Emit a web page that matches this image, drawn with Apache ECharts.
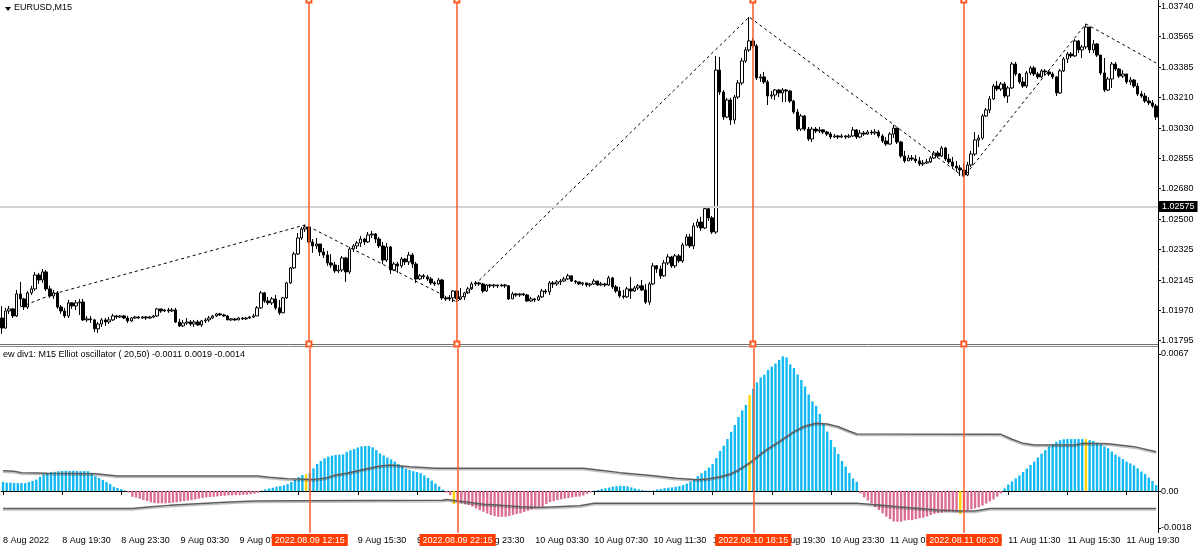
<!DOCTYPE html>
<html>
<head>
<meta charset="utf-8">
<script src="https://cdn.jsdelivr.net/npm/echarts@6.0.0/dist/echarts.min.js"></script>
<style>
  html, body { margin: 0; padding: 0; background: #fff; }
  #chart { width: 1200px; height: 552px; }
</style>
</head>
<body>
<div id="chart"></div>
<script>
// EURUSD M15, bars from 8 Aug 2022 15:30 to 11 Aug 2022 21:30
const firstOpen = 1.01927;
const closes = [
  1.01869, 1.01968, 1.01980, 1.01939, 1.02067, 1.02038, 1.01991, 1.02073, 1.02096, 1.02177,
  1.02148, 1.02195, 1.02096, 1.02055, 1.02073, 1.01991, 1.01968, 1.01939, 1.02015, 1.01997,
  1.02015, 1.02020, 1.01916, 1.01922, 1.01916, 1.01864, 1.01892, 1.01916, 1.01904, 1.01916,
  1.01939, 1.01933, 1.01939, 1.01927, 1.01910, 1.01927, 1.01933, 1.01927, 1.01933, 1.01927,
  1.01933, 1.01939, 1.01980, 1.01968, 1.01974, 1.01968, 1.01974, 1.01904, 1.01881, 1.01898,
  1.01904, 1.01892, 1.01904, 1.01887, 1.01910, 1.01916, 1.01927, 1.01939, 1.01951, 1.01945,
  1.01939, 1.01916, 1.01922, 1.01916, 1.01927, 1.01922, 1.01927, 1.01933, 1.01939, 1.01986,
  1.02073, 1.02026, 1.02015, 1.02038, 1.01986, 1.01957, 1.02044, 1.02131, 1.02218, 1.02299,
  1.02392, 1.02444, 1.02456, 1.02369, 1.02346, 1.02357, 1.02311, 1.02293, 1.02247, 1.02235,
  1.02201, 1.02206, 1.02276, 1.02195, 1.02328, 1.02346, 1.02363, 1.02386, 1.02369, 1.02410,
  1.02415, 1.02386, 1.02346, 1.02264, 1.02340, 1.02206, 1.02241, 1.02230, 1.02270, 1.02253,
  1.02293, 1.02241, 1.02154, 1.02172, 1.02166, 1.02154, 1.02131, 1.02125, 1.02148, 1.02044,
  1.02038, 1.02044, 1.02084, 1.02038, 1.02050, 1.02073, 1.02096, 1.02125, 1.02131, 1.02125,
  1.02084, 1.02119, 1.02114, 1.02119, 1.02114, 1.02119, 1.02114, 1.02038, 1.02067, 1.02061,
  1.02067, 1.02061, 1.02026, 1.02038, 1.02032, 1.02050, 1.02084, 1.02079, 1.02131, 1.02125,
  1.02137, 1.02142, 1.02154, 1.02172, 1.02142, 1.02137, 1.02125, 1.02131, 1.02119, 1.02125,
  1.02142, 1.02119, 1.02125, 1.02119, 1.02160, 1.02108, 1.02084, 1.02055, 1.02050, 1.02096,
  1.02084, 1.02102, 1.02114, 1.02090, 1.02020, 1.02125, 1.02230, 1.02212, 1.02172, 1.02247,
  1.02282, 1.02230, 1.02288, 1.02259, 1.02351, 1.02398, 1.02346, 1.02462, 1.02485, 1.02450,
  1.02562, 1.02509, 1.02427, 1.03368, 1.03240, 1.03095, 1.03194, 1.03078, 1.03211, 1.03293,
  1.03421, 1.03485, 1.03537, 1.03508, 1.03322, 1.03328, 1.03299, 1.03217, 1.03223, 1.03252,
  1.03235, 1.03252, 1.03246, 1.03188, 1.03124, 1.03025, 1.03101, 1.03025, 1.02967, 1.03025,
  1.03014, 1.03020, 1.03008, 1.02996, 1.02979, 1.02985, 1.02979, 1.02985, 1.02979, 1.02985,
  1.03020, 1.02979, 1.03002, 1.02996, 1.03008, 1.03002, 1.03008, 1.02985, 1.02956, 1.02938,
  1.02996, 1.03031, 1.02950, 1.02868, 1.02840, 1.02857, 1.02851, 1.02840, 1.02822, 1.02828,
  1.02834, 1.02857, 1.02886, 1.02868, 1.02915, 1.02851, 1.02834, 1.02810, 1.02799, 1.02787,
  1.02758, 1.02816, 1.02880, 1.02962, 1.02973, 1.03101, 1.03136, 1.03200, 1.03275, 1.03258,
  1.03287, 1.03217, 1.03264, 1.03403, 1.03345, 1.03299, 1.03275, 1.03351, 1.03380, 1.03345,
  1.03328, 1.03363, 1.03357, 1.03345, 1.03328, 1.03235, 1.03363, 1.03432, 1.03461, 1.03450,
  1.03537, 1.03485, 1.03502, 1.03618, 1.03485, 1.03519, 1.03455, 1.03351, 1.03252, 1.03316,
  1.03403, 1.03374, 1.03333, 1.03345, 1.03299, 1.03310, 1.03275, 1.03229, 1.03217, 1.03188,
  1.03177, 1.03159, 1.03095
];
const highs = [
  1.01997, 1.01986, 1.01997, 1.01986, 1.02090, 1.02137, 1.02044, 1.02084, 1.02114, 1.02195,
  1.02189, 1.02212, 1.02206, 1.02114, 1.02090, 1.02084, 1.02003, 1.01986, 1.02032, 1.02020,
  1.02032, 1.02038, 1.02038, 1.01939, 1.01939, 1.01922, 1.01904, 1.01927, 1.01927, 1.01933,
  1.01951, 1.01945, 1.01945, 1.01945, 1.01939, 1.01933, 1.01939, 1.01939, 1.01939, 1.01939,
  1.01939, 1.01945, 1.01986, 1.01980, 1.01980, 1.01986, 1.01986, 1.01986, 1.01922, 1.01916,
  1.01927, 1.01916, 1.01916, 1.01916, 1.01916, 1.01927, 1.01939, 1.01945, 1.01957, 1.01957,
  1.01951, 1.01945, 1.01927, 1.01927, 1.01933, 1.01933, 1.01933, 1.01939, 1.01951, 1.01997,
  1.02084, 1.02079, 1.02050, 1.02050, 1.02061, 1.02032, 1.02050, 1.02137, 1.02224, 1.02311,
  1.02421, 1.02456, 1.02468, 1.02462, 1.02386, 1.02392, 1.02351, 1.02334, 1.02317, 1.02299,
  1.02253, 1.02235, 1.02288, 1.02282, 1.02340, 1.02357, 1.02375, 1.02404, 1.02392, 1.02427,
  1.02433, 1.02421, 1.02398, 1.02369, 1.02363, 1.02346, 1.02253, 1.02253, 1.02282, 1.02276,
  1.02311, 1.02305, 1.02253, 1.02183, 1.02183, 1.02177, 1.02166, 1.02142, 1.02160, 1.02154,
  1.02055, 1.02061, 1.02090, 1.02090, 1.02102, 1.02079, 1.02108, 1.02137, 1.02142, 1.02137,
  1.02131, 1.02125, 1.02125, 1.02125, 1.02119, 1.02125, 1.02125, 1.02119, 1.02079, 1.02073,
  1.02073, 1.02073, 1.02067, 1.02050, 1.02044, 1.02061, 1.02096, 1.02096, 1.02142, 1.02142,
  1.02148, 1.02154, 1.02166, 1.02183, 1.02172, 1.02148, 1.02137, 1.02137, 1.02131, 1.02131,
  1.02154, 1.02142, 1.02137, 1.02131, 1.02172, 1.02166, 1.02119, 1.02108, 1.02090, 1.02108,
  1.02166, 1.02114, 1.02125, 1.02148, 1.02125, 1.02137, 1.02247, 1.02235, 1.02230, 1.02264,
  1.02299, 1.02288, 1.02299, 1.02299, 1.02363, 1.02415, 1.02415, 1.02479, 1.02503, 1.02515,
  1.02574, 1.02574, 1.02520, 1.03450, 1.03444, 1.03252, 1.03206, 1.03206, 1.03223, 1.03310,
  1.03438, 1.03502, 1.03676, 1.03554, 1.03519, 1.03345, 1.03357, 1.03310, 1.03246, 1.03258,
  1.03258, 1.03264, 1.03258, 1.03252, 1.03194, 1.03142, 1.03113, 1.03107, 1.03037, 1.03037,
  1.03037, 1.03037, 1.03025, 1.03014, 1.03008, 1.02996, 1.02991, 1.02996, 1.02991, 1.02996,
  1.03037, 1.03025, 1.03020, 1.03014, 1.03020, 1.03020, 1.03025, 1.03020, 1.02996, 1.02979,
  1.03008, 1.03049, 1.03002, 1.02956, 1.02898, 1.02874, 1.02874, 1.02874, 1.02863, 1.02845,
  1.02851, 1.02868, 1.02898, 1.02898, 1.02927, 1.02921, 1.02880, 1.02863, 1.02840, 1.02816,
  1.02828, 1.02834, 1.02898, 1.03008, 1.02991, 1.03113, 1.03148, 1.03217, 1.03287, 1.03304,
  1.03299, 1.03299, 1.03275, 1.03415, 1.03415, 1.03351, 1.03328, 1.03363, 1.03392, 1.03392,
  1.03357, 1.03374, 1.03374, 1.03363, 1.03357, 1.03333, 1.03374, 1.03444, 1.03473, 1.03473,
  1.03548, 1.03543, 1.03513, 1.03636, 1.03612, 1.03543, 1.03525, 1.03455, 1.03438, 1.03328,
  1.03415, 1.03415, 1.03380, 1.03368, 1.03345, 1.03328, 1.03316, 1.03293, 1.03246, 1.03235,
  1.03211, 1.03194, 1.03171
];
const lows = [
  1.01835, 1.01864, 1.01951, 1.01927, 1.01933, 1.01997, 1.01974, 1.01980, 1.02061, 1.02084,
  1.02125, 1.02131, 1.02084, 1.02044, 1.02038, 1.01980, 1.01951, 1.01927, 1.01927, 1.01980,
  1.01974, 1.01945, 1.01910, 1.01904, 1.01898, 1.01846, 1.01840, 1.01875, 1.01881, 1.01892,
  1.01910, 1.01922, 1.01927, 1.01922, 1.01898, 1.01904, 1.01922, 1.01922, 1.01922, 1.01916,
  1.01922, 1.01927, 1.01933, 1.01957, 1.01962, 1.01957, 1.01962, 1.01898, 1.01875, 1.01875,
  1.01887, 1.01881, 1.01875, 1.01881, 1.01875, 1.01898, 1.01904, 1.01922, 1.01933, 1.01939,
  1.01933, 1.01916, 1.01910, 1.01910, 1.01916, 1.01916, 1.01916, 1.01922, 1.01927, 1.01939,
  1.01980, 1.02015, 1.02003, 1.02003, 1.01974, 1.01945, 1.01957, 1.02038, 1.02125, 1.02212,
  1.02293, 1.02381, 1.02427, 1.02357, 1.02305, 1.02328, 1.02288, 1.02276, 1.02230, 1.02218,
  1.02189, 1.02189, 1.02195, 1.02137, 1.02183, 1.02311, 1.02328, 1.02340, 1.02351, 1.02363,
  1.02392, 1.02363, 1.02334, 1.02241, 1.02253, 1.02183, 1.02201, 1.02189, 1.02218, 1.02235,
  1.02235, 1.02218, 1.02131, 1.02148, 1.02154, 1.02142, 1.02119, 1.02114, 1.02119, 1.02032,
  1.02026, 1.02026, 1.02020, 1.02020, 1.02032, 1.02032, 1.02067, 1.02090, 1.02114, 1.02114,
  1.02073, 1.02079, 1.02102, 1.02102, 1.02102, 1.02108, 1.02102, 1.02032, 1.02038, 1.02050,
  1.02050, 1.02055, 1.02020, 1.02020, 1.02020, 1.02026, 1.02044, 1.02067, 1.02061, 1.02102,
  1.02114, 1.02119, 1.02137, 1.02148, 1.02137, 1.02125, 1.02119, 1.02114, 1.02108, 1.02108,
  1.02119, 1.02114, 1.02114, 1.02108, 1.02114, 1.02096, 1.02073, 1.02044, 1.02038, 1.02044,
  1.02038, 1.02079, 1.02090, 1.02084, 1.02009, 1.02003, 1.02119, 1.02189, 1.02154, 1.02166,
  1.02235, 1.02218, 1.02218, 1.02247, 1.02247, 1.02346, 1.02334, 1.02328, 1.02450, 1.02433,
  1.02444, 1.02491, 1.02415, 1.02415, 1.03223, 1.03078, 1.03089, 1.03049, 1.03055, 1.03200,
  1.03281, 1.03409, 1.03473, 1.03496, 1.03310, 1.03299, 1.03287, 1.03165, 1.03200, 1.03194,
  1.03211, 1.03182, 1.03182, 1.03177, 1.03113, 1.03014, 1.03014, 1.03014, 1.02956, 1.02950,
  1.03002, 1.03002, 1.02996, 1.02985, 1.02967, 1.02973, 1.02967, 1.02973, 1.02967, 1.02973,
  1.02979, 1.02967, 1.02973, 1.02985, 1.02991, 1.02991, 1.02991, 1.02973, 1.02944, 1.02927,
  1.02933, 1.02973, 1.02938, 1.02857, 1.02828, 1.02840, 1.02840, 1.02828, 1.02810, 1.02810,
  1.02822, 1.02828, 1.02851, 1.02857, 1.02863, 1.02840, 1.02822, 1.02799, 1.02776, 1.02752,
  1.02747, 1.02752, 1.02805, 1.02868, 1.02921, 1.02962, 1.03095, 1.03118, 1.03194, 1.03246,
  1.03246, 1.03206, 1.03177, 1.03258, 1.03333, 1.03287, 1.03264, 1.03264, 1.03339, 1.03333,
  1.03316, 1.03322, 1.03339, 1.03333, 1.03316, 1.03217, 1.03229, 1.03357, 1.03409, 1.03438,
  1.03444, 1.03467, 1.03438, 1.03490, 1.03467, 1.03467, 1.03444, 1.03339, 1.03240, 1.03246,
  1.03264, 1.03363, 1.03322, 1.03322, 1.03287, 1.03281, 1.03264, 1.03217, 1.03206, 1.03177,
  1.03165, 1.03148, 1.03078
];
// Elliott oscillator histogram, one value per bar
const osc = [
  0.00045, 0.00041, 0.00041, 0.00039, 0.00039, 0.00039, 0.00039, 0.00044, 0.00049, 0.00056,
  0.00070, 0.00081, 0.00087, 0.00093, 0.00094, 0.00097, 0.00098, 0.00099, 0.00098, 0.00099,
  0.00098, 0.00097, 0.00098, 0.00097, 0.00089, 0.00073, 0.00064, 0.00054, 0.00044, 0.00034,
  0.00021, 0.00015, 0.00010, 0.00002, -0.00008, -0.00028, -0.00032, -0.00037, -0.00044, -0.00049,
  -0.00055, -0.00059, -0.00060, -0.00060, -0.00060, -0.00059, -0.00057, -0.00055, -0.00052, -0.00049,
  -0.00047, -0.00044, -0.00041, -0.00037, -0.00034, -0.00031, -0.00029, -0.00028, -0.00026, -0.00024,
  -0.00023, -0.00021, -0.00021, -0.00020, -0.00020, -0.00018, -0.00018, -0.00016, -0.00013, -0.00008,
  0.00002, 0.00008, 0.00013, 0.00016, 0.00021, 0.00024, 0.00028, 0.00034, 0.00044, 0.00055,
  0.00068, 0.00078, 0.00083, 0.00087, 0.00111, 0.00132, 0.00147, 0.00160, 0.00168, 0.00173,
  0.00176, 0.00178, 0.00179, 0.00191, 0.00199, 0.00205, 0.00213, 0.00218, 0.00220, 0.00220,
  0.00214, 0.00200, 0.00184, 0.00174, 0.00164, 0.00155, 0.00144, 0.00132, 0.00119, 0.00108,
  0.00103, 0.00097, 0.00093, 0.00087, 0.00076, 0.00064, 0.00051, 0.00037, 0.00022, 0.00007,
  -0.00007, -0.00020, -0.00063, -0.00052, -0.00060, -0.00065, -0.00068, -0.00076, -0.00085, -0.00093,
  -0.00101, -0.00110, -0.00117, -0.00122, -0.00126, -0.00126, -0.00126, -0.00122, -0.00117, -0.00112,
  -0.00109, -0.00103, -0.00096, -0.00090, -0.00085, -0.00081, -0.00077, -0.00064, -0.00054, -0.00049,
  -0.00044, -0.00041, -0.00037, -0.00034, -0.00031, -0.00028, -0.00027, -0.00022, -0.00015, -0.00007,
  0.00002, 0.00005, 0.00010, 0.00013, 0.00017, 0.00021, 0.00024, 0.00026, 0.00025, 0.00023,
  0.00018, 0.00013, 0.00008, 0.00005, 0.00002, 0.00001, 0.00003, 0.00007, 0.00010, 0.00014,
  0.00016, 0.00018, 0.00021, 0.00024, 0.00029, 0.00036, 0.00046, 0.00059, 0.00073, 0.00087,
  0.00100, 0.00115, 0.00132, 0.00161, 0.00196, 0.00222, 0.00254, 0.00289, 0.00323, 0.00362,
  0.00394, 0.00421, 0.00469, 0.00500, 0.00531, 0.00555, 0.00569, 0.00592, 0.00608, 0.00623,
  0.00641, 0.00658, 0.00653, 0.00619, 0.00601, 0.00570, 0.00543, 0.00511, 0.00472, 0.00438,
  0.00416, 0.00377, 0.00328, 0.00291, 0.00249, 0.00215, 0.00181, 0.00147, 0.00120, 0.00088,
  0.00061, 0.00045, -0.00012, -0.00031, -0.00046, -0.00060, -0.00078, -0.00093, -0.00109, -0.00125,
  -0.00137, -0.00149, -0.00150, -0.00150, -0.00144, -0.00142, -0.00142, -0.00137, -0.00133, -0.00130,
  -0.00124, -0.00117, -0.00111, -0.00108, -0.00106, -0.00103, -0.00101, -0.00101, -0.00103, -0.00112,
  -0.00101, -0.00096, -0.00089, -0.00085, -0.00080, -0.00071, -0.00061, -0.00051, -0.00041, -0.00027,
  -0.00012, 0.00013, 0.00032, 0.00047, 0.00062, 0.00076, 0.00093, 0.00110, 0.00127, 0.00144,
  0.00164, 0.00183, 0.00200, 0.00218, 0.00230, 0.00240, 0.00248, 0.00253, 0.00254, 0.00254,
  0.00254, 0.00254, 0.00254, 0.00254, 0.00249, 0.00245, 0.00237, 0.00227, 0.00218, 0.00209,
  0.00193, 0.00178, 0.00168, 0.00156, 0.00144, 0.00135, 0.00125, 0.00111, 0.00095, 0.00083,
  0.00066, 0.00049, 0.00029
];
const yellowBars = [82, 122, 202, 259, 293];

// upper / lower level lines of the oscillator, [bar, value]
const upperLevel = [
  [0, 0.00099], [3, 0.00097], [5, 0.00089], [12, 0.00087], [25, 0.00085], [31, 0.00073],
  [69, 0.00073], [72, 0.00067], [77, 0.00060], [84, 0.00057], [87, 0.00062], [90, 0.00078],
  [93, 0.00087], [96, 0.00099], [99, 0.00111], [102, 0.00122], [105, 0.00127], [110, 0.00119],
  [117, 0.00111], [157, 0.00111], [161, 0.00103], [167, 0.00090], [176, 0.00075], [182, 0.00062],
  [188, 0.00055], [191, 0.00060], [194, 0.00070], [197, 0.00085], [199, 0.00103], [202, 0.00138],
  [206, 0.00195], [210, 0.00241], [214, 0.00290], [217, 0.00318], [220, 0.00331], [223, 0.00328],
  [226, 0.00314], [229, 0.00292], [231, 0.00279], [270, 0.00277], [273, 0.00253], [276, 0.00233],
  [279, 0.00225], [290, 0.00225], [292, 0.00233], [299, 0.00231], [306, 0.00217], [312, 0.00192]
];
const lowerLevel = [
  [0, -0.00085], [35, -0.00085], [40, -0.00077], [45, -0.00070], [50, -0.00065], [55, -0.00060],
  [60, -0.00055], [68, -0.00049], [80, -0.00047], [119, -0.00045], [120, -0.00041], [123, -0.00049],
  [127, -0.00057], [130, -0.00064], [135, -0.00070], [140, -0.00077], [145, -0.00081], [150, -0.00077],
  [156, -0.00072], [160, -0.00060], [231, -0.00060], [237, -0.00068], [242, -0.00077], [248, -0.00085],
  [253, -0.00093], [259, -0.00097], [263, -0.00097], [267, -0.00085], [312, -0.00085]
];

// zigzag pivots, [bar, price]
const zigzag = [
  [5, 1.01991], [14, 1.02067], [82, 1.02468], [123, 1.02020], [202, 1.03676],
  [260, 1.02747], [293, 1.03636], [312, 1.03409]
];

const markerBars = [83, 123, 203, 260];
const markerLabels = ['2022.08.09 12:15', '2022.08.09 22:15', '2022.08.10 18:15', '2022.08.11 08:30'];
const hLinePrice = 1.02575;

const timeLabels = [
  '8 Aug 2022', '8 Aug 19:30', '8 Aug 23:30', '9 Aug 03:30', '9 Aug 07:30', '9 Aug 11:30',
  '9 Aug 15:30', '9 Aug 19:30', '9 Aug 23:30', '10 Aug 03:30', '10 Aug 07:30', '10 Aug 11:30',
  '10 Aug 15:30', '10 Aug 19:30', '10 Aug 23:30', '11 Aug 03:30', '11 Aug 07:30', '11 Aug 11:30',
  '11 Aug 15:30', '11 Aug 19:30'
];
const labelEvery = 16;
const priceTicks = [1.01795, 1.01970, 1.02145, 1.02325, 1.02500, 1.02680, 1.02855, 1.03030, 1.03210, 1.03385, 1.03565, 1.03740];
const oscTicks = [0.0067, 0, -0.0018];
const oscTickLabels = ['0.0067', '0.00', '-0.0018'];

// bar times as categories
const start = Date.UTC(2022, 7, 8, 15, 30);
const pad = n => String(n).padStart(2, '0');
const categories = closes.map((c, i) => {
  const d = new Date(start + i * 15 * 60000);
  return d.getUTCFullYear() + '.' + pad(d.getUTCMonth() + 1) + '.' + pad(d.getUTCDate()) + ' ' +
    pad(d.getUTCHours()) + ':' + pad(d.getUTCMinutes());
});

const candles = closes.map((c, i) => {
  const o = i ? closes[i - 1] : firstOpen;
  return [o, c, Math.min(lows[i], o, c), Math.max(highs[i], o, c)];
});

const oscBars = osc.map((v, i) => ({
  value: v,
  itemStyle: { color: yellowBars.includes(i) ? '#ffd400' : (v >= 0 ? '#13b9f2' : '#db6f93') }
}));

const FONT = 'Liberation Sans';
const W = 1158;
const chart = echarts.init(document.getElementById('chart'));

chart.setOption({
  animation: false,
  backgroundColor: '#ffffff',
  textStyle: { fontFamily: FONT },
  grid: [
    { left: 0, top: 0, width: W, height: 344 },
    { left: 0, top: 348, width: W, height: 185 }
  ],
  xAxis: [
    {
      type: 'category', gridIndex: 0, data: categories, boundaryGap: true,
      axisLine: { show: false }, axisTick: { show: false }, axisLabel: { show: false },
      splitLine: { show: false }
    },
    {
      type: 'category', gridIndex: 1, data: categories, boundaryGap: true,
      axisLine: { show: true, lineStyle: { color: '#000', width: 1 } },
      axisTick: { show: true, alignWithLabel: true, length: 4, interval: i => i % labelEvery === 0, lineStyle: { color: '#000' } },
      axisLabel: {
        show: true, interval: i => i % labelEvery === 0, align: 'left', margin: 3,
        fontSize: 9, color: '#000', fontFamily: FONT,
        formatter: (v, i) => timeLabels[Math.round(i / labelEvery)] || ''
      },
      splitLine: { show: false }
    }
  ],
  yAxis: [
    {
      type: 'value', gridIndex: 0, position: 'right', min: 1.01776, max: 1.03775,
      axisLine: { show: false },
      axisTick: { show: true, length: 3, customValues: priceTicks, lineStyle: { color: '#000' } },
      axisLabel: { show: true, customValues: priceTicks, margin: 3, fontSize: 9, color: '#000', fontFamily: FONT,
        formatter: v => v.toFixed(5) },
      splitLine: { show: false }
    },
    {
      type: 'value', gridIndex: 1, position: 'right', min: -0.00205, max: 0.00699,
      axisLine: { show: false },
      axisTick: { show: true, length: 3, customValues: oscTicks, lineStyle: { color: '#000' } },
      axisLabel: { show: true, customValues: oscTicks, margin: 3, fontSize: 9, color: '#000', fontFamily: FONT,
        formatter: v => oscTickLabels[oscTicks.findIndex(t => Math.abs(t - v) < 1e-7)] },
      splitLine: { show: false }
    }
  ],
  graphic: [
    { type: 'line', silent: true, shape: { x1: 0, y1: 344.5, x2: W, y2: 344.5 }, style: { stroke: '#6e6e6e', lineWidth: 1 } },
    { type: 'line', silent: true, shape: { x1: 0, y1: 346.5, x2: W, y2: 346.5 }, style: { stroke: '#8a8a8a', lineWidth: 1 } },
    { type: 'line', silent: true, shape: { x1: W + 0.5, y1: 0, x2: W + 0.5, y2: 533 }, style: { stroke: '#000', lineWidth: 1 } },
    { type: 'polygon', silent: true, shape: { points: [[5, 7], [11, 7], [8, 11]] }, style: { fill: '#000' } },
    { type: 'text', silent: true, left: 14, top: 3, style: { text: 'EURUSD,M15', fontSize: 9, fontFamily: FONT, fill: '#000' } },
    { type: 'text', silent: true, left: 3, top: 350, style: { text: 'ew div1: M15 Elliot oscillator ( 20,50) -0.0011 0.0019 -0.0014', fontSize: 9, fontFamily: FONT, fill: '#000' } }
  ],
  series: [
    {
      // invisible carrier for the horizontal price line, kept under the candles
      type: 'line', xAxisIndex: 0, yAxisIndex: 0, data: closes, z: 1, silent: true,
      symbol: 'none', lineStyle: { opacity: 0 },
      markLine: {
        silent: true, symbol: 'none', precision: 5,
        lineStyle: { color: '#d2d2d2', width: 2, type: 'solid' },
        label: {
          show: true, position: 'end', distance: 1, formatter: () => hLinePrice.toFixed(5),
          backgroundColor: '#000', color: '#fff', fontSize: 9, fontFamily: FONT, padding: [1, 3, 1, 3]
        },
        data: [{ yAxis: hLinePrice }]
      }
    },
    {
      type: 'candlestick', xAxisIndex: 0, yAxisIndex: 0, data: candles, barWidth: 3, z: 2,
      itemStyle: { color: '#ffffff', color0: '#000000', borderColor: '#000000', borderColor0: '#000000', borderWidth: 1 },
      markLine: {
        silent: true, symbol: ['emptyRect', 'emptyRect'], symbolSize: 5,
        lineStyle: { color: '#ff5a26', width: 1.5, type: 'solid' },
        label: { show: false },
        data: markerBars.map(i => ({ xAxis: i }))
      }
    },
    {
      type: 'line', xAxisIndex: 0, yAxisIndex: 0, data: zigzag, z: 3,
      showSymbol: false, symbol: 'none',
      lineStyle: { color: '#000', width: 1, type: [3, 3] }
    },
    {
      type: 'bar', xAxisIndex: 1, yAxisIndex: 1, data: oscBars, barWidth: 2.4, z: 2,
      markLine: {
        silent: true, symbol: 'none',
        lineStyle: { color: '#ff5a26', width: 1.5, type: 'solid' },
        label: {
          show: true, position: 'start', distance: 1,
          backgroundColor: '#ff3d00', color: '#fff', fontSize: 9, fontFamily: FONT, padding: [2, 3, 1, 3]
        },
        data: markerBars.map((i, k) => ({ xAxis: i, label: { formatter: markerLabels[k] } }))
      }
    },
    {
      type: 'line', xAxisIndex: 1, yAxisIndex: 1, data: upperLevel, z: 3, symbol: 'none',
      lineStyle: { color: '#5c5c5c', width: 1.5, shadowColor: 'rgba(0,0,0,0.25)', shadowOffsetY: 1.5 }
    },
    {
      type: 'line', xAxisIndex: 1, yAxisIndex: 1, data: lowerLevel, z: 3, symbol: 'none',
      lineStyle: { color: '#5c5c5c', width: 1.5, shadowColor: 'rgba(0,0,0,0.25)', shadowOffsetY: 1.5 }
    }
  ]
});
</script>
</body>
</html>
